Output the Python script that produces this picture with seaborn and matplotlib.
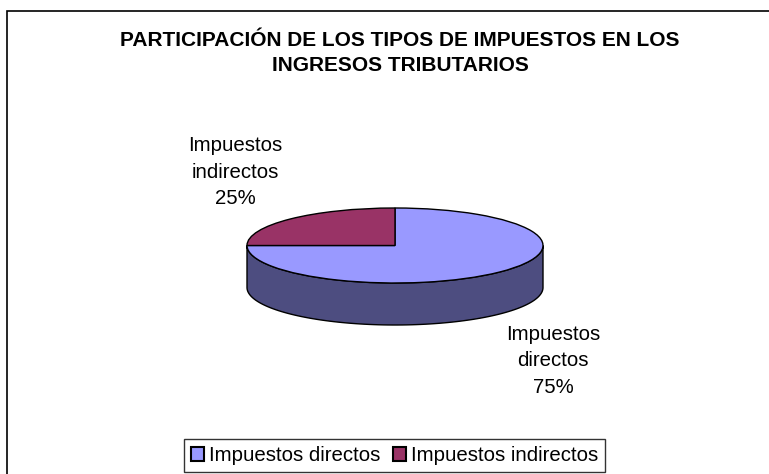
import numpy as np
import matplotlib
matplotlib.use('Agg')
import matplotlib.pyplot as plt
import seaborn as sns
from matplotlib.patches import Polygon, Rectangle

categorias = ['Impuestos directos', 'Impuestos indirectos']
participacion = [75, 25]
colores_sup = ['#9999FF', '#993366']
colores_lado = ['#4D4D80', '#5C1F3D']
titulo = 'PARTICIPACIÓN DE LOS TIPOS DE IMPUESTOS EN LOS\nINGRESOS TRIBUTARIOS'

sns.set_theme(style='white')
plt.rcParams['font.family'] = ['Liberation Sans', 'DejaVu Sans']
plt.rcParams['text.color'] = 'black'

W, H = 769, 474
fig = plt.figure(figsize=(W / 100, H / 100), dpi=100)

# ellipse of the top face: centre and semi-axes in pixels
cx, cy, rx, ry = 395, 245.5, 148, 37.5
x0, x1, y0, y1 = -1.1, 1.1, -2.3, 1.2
ax = fig.add_axes([(cx + x0 * rx) / W, 1 - (cy - y0 * ry) / H,
                   (x1 - x0) * rx / W, (y1 - y0) * ry / H])

wedges, _ = ax.pie(participacion, colors=colores_sup, startangle=90,
                   counterclock=False, radius=1,
                   wedgeprops=dict(edgecolor='black', linewidth=1))
for w in wedges:
    w.set_zorder(3)

# side of the 3D pie (only the front half is visible)
depth = 1.12
cum = np.concatenate([[0], np.cumsum(participacion)]) / np.sum(participacion)
for i in range(len(participacion)):
    a_end = 90 - cum[i] * 360
    a_start = 90 - cum[i + 1] * 360
    for shift in (0, 360, -360):
        lo = max(a_start + shift, -180)
        hi = min(a_end + shift, 0)
        if hi <= lo:
            continue
        t = np.radians(np.linspace(lo, hi, 100))
        top = np.column_stack([np.cos(t), np.sin(t)])
        bot = np.column_stack([np.cos(t[::-1]), np.sin(t[::-1]) - depth])
        ax.add_patch(Polygon(np.vstack([top, bot]), closed=True,
                             facecolor=colores_lado[i], edgecolor='black',
                             linewidth=1, zorder=2))

ax.set_aspect('auto')
ax.set_xlim(x0, x1)
ax.set_ylim(y0, y1)
ax.axis('off')

ax.text(-1.08, 1.96, 'Impuestos\nindirectos\n25%', ha='center', va='center',
        fontsize=14.7, linespacing=1.5, color='black')
ax.text(1.07, -3.07, 'Impuestos\ndirectos\n75%', ha='center', va='center',
        fontsize=14.7, linespacing=1.5, color='black')

fig.text(400 / W, 1 - 53 / H, titulo, ha='center', va='center', color='black',
         fontsize=15, fontweight='bold', linespacing=1.45)

leg = fig.legend(wedges, categorias, loc='center', bbox_to_anchor=(394.5 / W, 1 - 455.5 / H),
                 ncol=2, fontsize=14.7, frameon=True, fancybox=False,
                 handlelength=0.65, handleheight=0.65, handletextpad=0.25,
                 columnspacing=0.6, borderpad=0.35, borderaxespad=0)
leg.get_frame().set_edgecolor('black')
leg.get_frame().set_linewidth(1)
for h in leg.legend_handles:
    h.set_linewidth(1.5)
for txt in leg.get_texts():
    txt.set_color('black')

fig.patches.append(Rectangle((7 / W, -0.1), 1.2, 1.1 - 11 / H, transform=fig.transFigure,
                             fill=False, edgecolor='black', linewidth=1.2))

fig.savefig('out.png', dpi=100)
